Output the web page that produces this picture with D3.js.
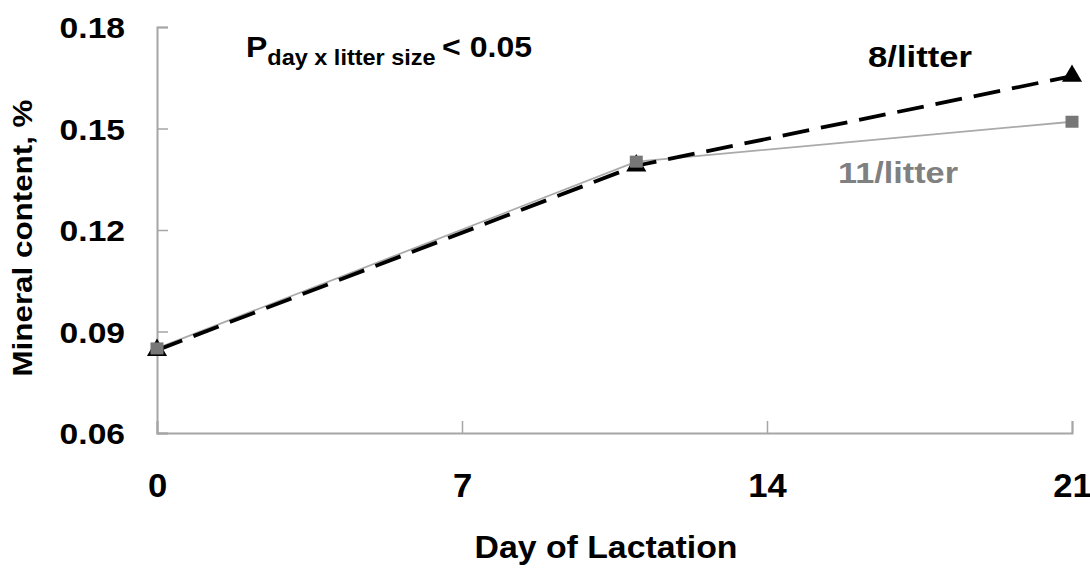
<!DOCTYPE html>
<html><head><meta charset="utf-8">
<script src="https://cdn.jsdelivr.net/npm/d3@7"></script>
<style>body{margin:0;background:#fff}svg{display:block}text{font-family:"Liberation Sans",Arial,sans-serif;font-weight:bold}</style>
</head><body>
<svg id="c" width="1090" height="570"></svg>
<script>
const days = [0, 11, 21];
const litter8 = [0.0845, 0.139, 0.1655];
const litter11 = [0.085, 0.1402, 0.152];
const xTicks = [0, 7, 14, 21];
const yTicks = [0.06, 0.09, 0.12, 0.15, 0.18];

const svg = d3.select("#c");
const m = {l:157, r:18, t:27, b:137};
const W = 1090, H = 570;
const x = d3.scaleLinear().domain([0,21]).range([m.l, W-m.r]);
const y = d3.scaleLinear().domain([0.06,0.18]).range([H-m.b, m.t]);
const axisCol = "#a6a6a6";

function widen(sel, f){
  sel.each(function(){
    const w = this.getComputedTextLength();
    d3.select(this).attr("textLength", w*f).attr("lengthAdjust","spacingAndGlyphs");
  });
}

const gx = svg.append("g").attr("transform",`translate(0,${H-m.b})`)
  .call(d3.axisBottom(x).tickValues(xTicks).tickSize(-12).tickFormat(d3.format("d")));
gx.select(".domain").attr("stroke",axisCol).attr("stroke-width",2);
gx.selectAll(".tick line").attr("stroke",axisCol).attr("stroke-width",1.5);
gx.selectAll(".tick text").attr("y",64).attr("dy",0).attr("font-size",33).attr("fill","#000");
widen(gx.selectAll(".tick text"),1.05);

const gy = svg.append("g").attr("transform",`translate(${m.l},0)`)
  .call(d3.axisLeft(y).tickValues(yTicks).tickSize(-11).tickFormat(d3.format(".2f")));
gy.select(".domain").attr("stroke",axisCol).attr("stroke-width",2);
gy.selectAll(".tick line").attr("stroke",axisCol).attr("stroke-width",1.5);
gy.selectAll(".tick text").attr("x",-32).attr("dy","0.36em").attr("font-size",30).attr("fill","#000");
widen(gy.selectAll(".tick text"),1.12);

const line = d3.line().x((d,i)=>x(days[i])).y(d=>y(d));
svg.append("path").datum(litter11).attr("d",line).attr("fill","none").attr("stroke","#aaaaaa").attr("stroke-width",1.8);
svg.append("path").datum(litter8).attr("d",line).attr("fill","none").attr("stroke","#000").attr("stroke-width",3.8).attr("stroke-dasharray","27,12");

svg.selectAll(".tri").data(litter8).enter().append("path")
  .attr("d",d3.symbol().type(d3.symbolTriangle).size(175))
  .attr("transform",(d,i)=>`translate(${x(days[i])},${y(d)})`).attr("fill","#000");
svg.selectAll(".sq").data(litter11).enter().append("rect")
  .attr("x",(d,i)=>x(days[i])-6.5).attr("y",d=>y(d)-6).attr("width",13).attr("height",12).attr("fill","#777");

const xt = svg.append("text").attr("x",606).attr("y",558).attr("text-anchor","middle").attr("font-size",32).text("Day of Lactation");
xt.attr("textLength",263).attr("lengthAdjust","spacingAndGlyphs");
const yt = svg.append("text").attr("transform","translate(32,238) rotate(-90)").attr("text-anchor","middle").attr("font-size",27).text("Mineral content, %");
yt.attr("textLength",277).attr("lengthAdjust","spacingAndGlyphs");

const ann = svg.append("text").attr("x",246).attr("y",57).attr("font-size",30);
ann.append("tspan").text("P");
ann.append("tspan").attr("font-size",22).attr("dy",8).text("day x litter size ");
ann.append("tspan").attr("dy",-8).text("< 0.05");
ann.attr("textLength",286).attr("lengthAdjust","spacingAndGlyphs");

svg.append("text").attr("x",868).attr("y",67).attr("font-size",29).text("8/litter")
  .attr("textLength",104).attr("lengthAdjust","spacingAndGlyphs");
svg.append("text").attr("x",838).attr("y",183).attr("font-size",29).attr("fill","#808080").text("11/litter")
  .attr("textLength",120).attr("lengthAdjust","spacingAndGlyphs");
</script>
</body></html>
